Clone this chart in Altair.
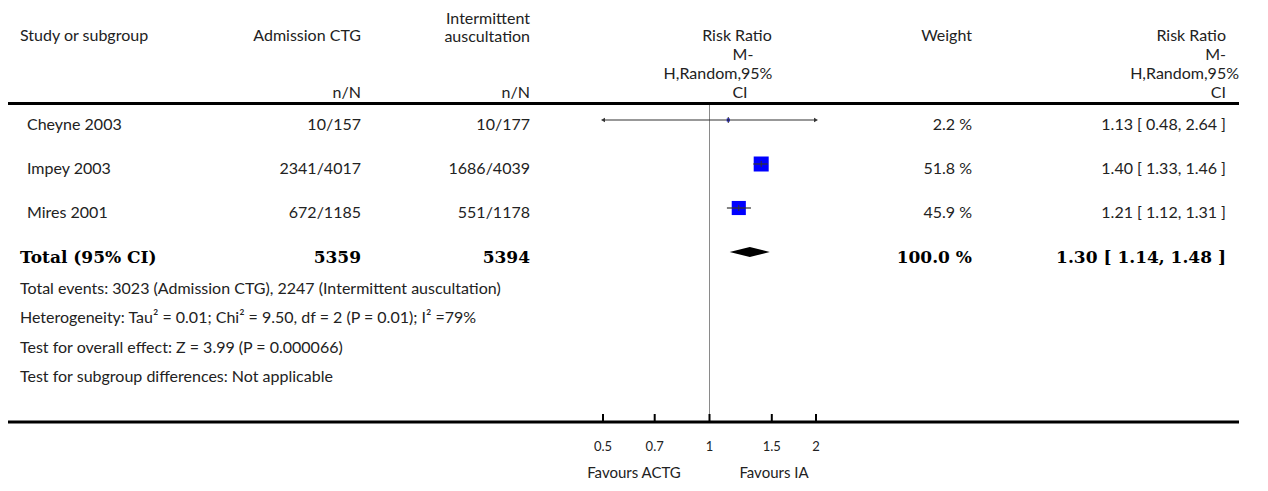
import altair as alt
import pandas as pd

# ---------------- data ----------------
studies = ["Cheyne 2003", "Impey 2003", "Mires 2001"]
ctg_events = [10, 2341, 672]
ctg_totals = [157, 4017, 1185]
ia_events = [10, 1686, 551]
ia_totals = [177, 4039, 1178]
rr = [1.13, 1.40, 1.21]
rr_low = [0.48, 1.33, 1.12]
rr_high = [2.64, 1.46, 1.31]
weights = [2.2, 51.8, 45.9]

total_label = "Total (95% CI)"
total_ctg = 5359
total_ia = 5394
total_rr = 1.30
total_low = 1.14
total_high = 1.48
total_weight = 100.0

footer_lines = [
    "Total events: 3023 (Admission CTG), 2247 (Intermittent auscultation)",
    "Heterogeneity: Tau\u00b2 = 0.01; Chi\u00b2 = 9.50, df = 2 (P = 0.01); I\u00b2 =79%",
    "Test for overall effect: Z = 3.99 (P = 0.000066)",
    "Test for subgroup differences: Not applicable",
]
tick_values = [0.5, 0.7, 1, 1.5, 2]
tick_labels = ["0.5", "0.7", "1", "1.5", "2"]
favours = ["Favours ACTG", "Favours IA"]

# ---------------- layout ----------------
W, H = 1252, 475
OFF = 8  # page margin


def px(v):
    return v - OFF


BODY = "Lato"
SERIF = "DejaVu Serif"
TXT = "#222222"
FS = 16
BFS = 17

xscale = alt.Scale(type="log", domain=[0.5, 2], range=[px(603), px(816)], nice=False)
yscale = alt.Scale(domain=[1, 4], range=[px(120), px(252)], nice=False, zero=False)

df = pd.DataFrame({
    "study": studies,
    "row": [1, 2, 3],
    "ctg": [f"{e}/{n}" for e, n in zip(ctg_events, ctg_totals)],
    "ia": [f"{e}/{n}" for e, n in zip(ia_events, ia_totals)],
    "rr": rr, "lo": rr_low, "hi": rr_high, "w": weights,
})
df["lo_c"] = df["lo"].clip(lower=tick_values[0])
df["hi_c"] = df["hi"].clip(upper=tick_values[-1])
df["wtxt"] = [f"{w:.1f} %" for w in weights]
df["rrtxt"] = [f"{a:.2f} [ {b:.2f}, {c:.2f} ]" for a, b, c in zip(rr, rr_low, rr_high)]

tot = pd.DataFrame({
    "study": [total_label], "row": [4],
    "ctg": [str(total_ctg)], "ia": [str(total_ia)],
    "wtxt": [f"{total_weight:.1f} %"],
    "rrtxt": [f"{total_rr:.2f} [ {total_low:.2f}, {total_high:.2f} ]"],
})

Y = alt.Y("row:Q", scale=yscale, axis=None)
one = pd.DataFrame({"a": [0]})


def col_text(data, field, xpage, align, font=BODY, size=FS, weight="normal", color=TXT, dy=5):
    return alt.Chart(data).mark_text(
        align=align, baseline="middle", font=font, fontSize=size,
        fontWeight=weight, color=color, dy=dy,
    ).encode(x=alt.value(px(xpage)), y=Y, text=f"{field}:N")


layers = []

# horizontal rules
layers.append(alt.Chart(one).mark_rule(color="black", strokeWidth=3).encode(
    x=alt.value(0), x2=alt.value(px(1239)), y=alt.value(px(103.5))))
layers.append(alt.Chart(one).mark_rule(color="black", strokeWidth=3).encode(
    x=alt.value(0), x2=alt.value(px(1239)), y=alt.value(px(422))))

# line of no effect
layers.append(alt.Chart(pd.DataFrame({"v": [1]})).mark_rule(color="#8a8a8a", strokeWidth=1).encode(
    x=alt.X("v:Q", scale=xscale, axis=None), y=alt.value(px(105)), y2=alt.value(px(421))))

# ticks (pointing up) and tick labels
ticks = pd.DataFrame({"t": tick_values, "lab": tick_labels})
layers.append(alt.Chart(ticks).mark_rule(color="black", strokeWidth=2).encode(
    x=alt.X("t:Q", scale=xscale, axis=None), y=alt.value(px(414)), y2=alt.value(px(422))))
layers.append(alt.Chart(ticks).mark_text(font=BODY, fontSize=13, color=TXT, baseline="middle").encode(
    x=alt.X("t:Q", scale=xscale, axis=None), y=alt.value(px(447)), text="lab:N"))

fav = pd.DataFrame({"f": favours, "xp": [px(634), px(774)]})
layers.append(alt.Chart(fav).mark_text(font=BODY, fontSize=15, color=TXT, baseline="middle").encode(
    x=alt.X("xp:Q", scale=None), y=alt.value(px(473)), text="f:N"))

# squares sized by weight
layers.append(alt.Chart(df).mark_square(color="#0000ff", opacity=1).encode(
    x=alt.X("rr:Q", scale=xscale, axis=None), y=Y,
    size=alt.Size("w:Q", scale=alt.Scale(domain=[0, 51.8], range=[0, 225]), legend=None)))

# confidence intervals
layers.append(alt.Chart(df).mark_rule(color="#333333", strokeWidth=1.2).encode(
    x=alt.X("lo_c:Q", scale=xscale, axis=None), x2="hi_c:Q", y=Y))
layers.append(alt.Chart(df).mark_rule(color="#333333", strokeWidth=1, yOffset=-3, y2Offset=3).encode(
    x=alt.X("rr:Q", scale=xscale, axis=None), y=Y, y2="row:Q"))

# arrows for truncated intervals
arr = pd.concat([
    pd.DataFrame({"x": tick_values[0], "row": df.loc[df["lo"] < tick_values[0], "row"], "shape": "triangle-left"}),
    pd.DataFrame({"x": tick_values[-1], "row": df.loc[df["hi"] > tick_values[-1], "row"], "shape": "triangle-right"}),
])
layers.append(alt.Chart(arr).mark_point(filled=True, color="#333333", size=22, opacity=1).encode(
    x=alt.X("x:Q", scale=xscale, axis=None), y=Y, shape=alt.Shape("shape:N", scale=None)))

# pooled diamond
h = 5 / 44
dia = pd.DataFrame({"x": [total_low, total_rr, total_high], "y": [4, 4 - h, 4], "y2": [4, 4 + h, 4]})
layers.append(alt.Chart(dia).mark_area(color="black", interpolate="linear", opacity=1).encode(
    x=alt.X("x:Q", scale=xscale, axis=None), y=alt.Y("y:Q", scale=yscale, axis=None), y2="y2:Q"))

# study rows text
layers.append(col_text(df, "study", 27, "left"))
layers.append(col_text(df, "ctg", 361, "right"))
layers.append(col_text(df, "ia", 530, "right"))
layers.append(col_text(df, "wtxt", 972, "right"))
layers.append(col_text(df, "rrtxt", 1226, "right"))

# total row text
layers.append(col_text(tot, "study", 20, "left", SERIF, BFS, "bold", "black", 6))
layers.append(col_text(tot, "ctg", 361, "right", SERIF, BFS, "bold", "black", 6))
layers.append(col_text(tot, "ia", 530, "right", SERIF, BFS, "bold", "black", 6))
layers.append(col_text(tot, "wtxt", 972, "right", SERIF, BFS, "bold", "black", 6))
layers.append(col_text(tot, "rrtxt", 1226, "right", SERIF, BFS, "bold", "black", 6))

# header texts
hdr = pd.DataFrame([
    ("Study or subgroup", px(20), px(36), "left"),
    ("Admission CTG", px(361), px(36), "right"),
    ("Intermittent", px(530), px(19), "right"),
    ("auscultation", px(530), px(37), "right"),
    ("n/N", px(361), px(93), "right"),
    ("n/N", px(530), px(93), "right"),
    ("Risk Ratio", px(737), px(36), "center"),
    ("M-", px(743), px(55), "center"),
    ("H,Random,95%", px(718), px(74), "center"),
    ("CI", px(740), px(93), "center"),
    ("Weight", px(972), px(36), "right"),
    ("Risk Ratio", px(1226), px(36), "right"),
    ("M-", px(1226), px(55), "right"),
    ("H,Random,95%", px(1239), px(74), "right"),
    ("CI", px(1226), px(93), "right"),
], columns=["t", "x", "y", "al"])
for al in ["left", "center", "right"]:
    sub = hdr[hdr["al"] == al]
    layers.append(alt.Chart(sub).mark_text(align=al, baseline="middle", font=BODY, fontSize=FS, color=TXT).encode(
        x=alt.X("x:Q", scale=None), y=alt.Y("y:Q", scale=None), text="t:N"))

# footer
foot = pd.DataFrame({"t": footer_lines})
foot["y"] = [px(289 + 29.3 * i) for i in range(len(footer_lines))]
layers.append(alt.Chart(foot).mark_text(align="left", baseline="middle", font=BODY, fontSize=FS, color=TXT).encode(
    x=alt.value(px(20)), y=alt.Y("y:Q", scale=None), text="t:N"))

chart = alt.layer(*layers).properties(
    width=W, height=H, padding=0, autosize=alt.AutoSizeParams(type="none")
).configure_view(stroke=None).resolve_scale(shape="independent", size="independent")

chart.save("out.html", embed_options={"renderer": "svg", "actions": False})
